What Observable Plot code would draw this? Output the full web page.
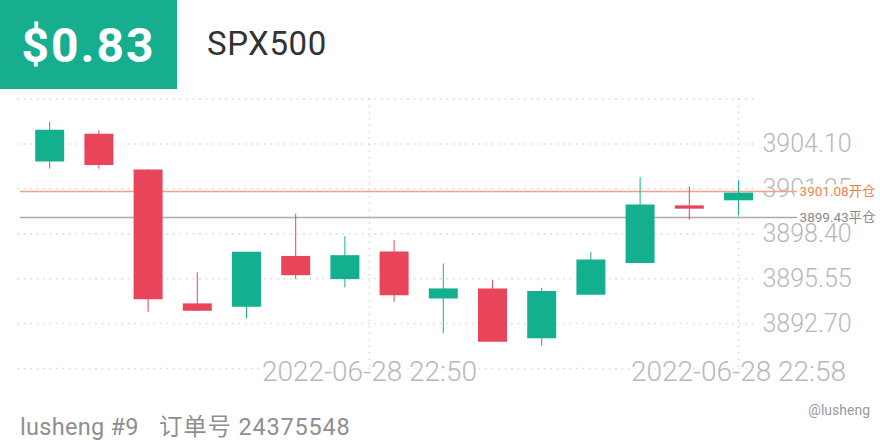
<!DOCTYPE html>
<html>
<head>
<meta charset="utf-8">
<script src="https://cdn.jsdelivr.net/npm/d3@7"></script>
<script src="https://cdn.jsdelivr.net/npm/@observablehq/plot@0.6"></script>
<style>
  html, body { margin: 0; padding: 0; background: #fff; }
  body { width: 880px; height: 440px; position: relative; overflow: hidden; font-family: Roboto, "Noto Sans CJK SC", sans-serif; }
  #pnl { position: absolute; left: 0; top: 0; width: 177px; height: 89px; background: #16ae8f;
         color: #fff; font-weight: 700; font-size: 48px; letter-spacing: 2px;
         display: flex; align-items: center; justify-content: center; padding-top: 2px; box-sizing: border-box; }
  #sym { position: absolute; left: 207px; top: 24px; font-size: 33px; letter-spacing: 0.6px; color: #333; line-height: 40px; }
  #chart { position: absolute; left: 0; top: 89px; }
  #foot { position: absolute; left: 20px; top: 412px; font-size: 23.5px; line-height: 30px; color: #8f8f8f; letter-spacing: 0.3px; }
  #foot span { margin-left: 20px; letter-spacing: 0.8px; }
  #wm { position: absolute; right: 10px; top: 400px; font-size: 14px; color: #9a9a9a; line-height: 20px; }
</style>
</head>
<body>
<div id="pnl">$0.83</div>
<div id="sym">SPX500</div>
<div id="chart"></div>
<div id="foot">lusheng #9<span>订单号 24375548</span></div>
<div id="wm">@lusheng</div>
<script>
// Candles (1-minute bars, index order)
const open  = [3902.96, 3904.71, 3902.45, 3893.95, 3893.73, 3896.96, 3895.49, 3897.24, 3894.26, 3894.90, 3891.73, 3894.49, 3896.52, 3900.17, 3900.49];
const high  = [3905.49, 3904.92, 3902.45, 3895.93, 3897.22, 3899.65, 3898.21, 3897.96, 3896.48, 3895.42, 3894.94, 3897.22, 3901.97, 3901.38, 3901.76];
const low   = [3902.50, 3902.50, 3893.42, 3893.48, 3892.99, 3895.49, 3894.96, 3894.05, 3892.05, 3891.52, 3891.24, 3894.49, 3896.52, 3899.27, 3899.54];
const close = [3904.97, 3902.73, 3894.22, 3893.48, 3897.22, 3895.74, 3897.01, 3894.47, 3894.90, 3891.52, 3894.73, 3896.73, 3900.22, 3899.96, 3900.98];

// Axis values
const gridValues = [3889.85, 3892.70, 3895.55, 3898.40, 3901.25, 3904.10, 3906.95];
const yTickValues = [3892.70, 3895.55, 3898.40, 3901.25, 3904.10];
const xTicks = [6.5, 14];
const xTickLabels = ["2022-06-28 22:50", "2022-06-28 22:58"];

// Position lines
const posValues = [3901.08, 3899.43];
const posLabels = ["3901.08开仓", "3899.43平仓"];

const GREEN = "#13b08f", RED = "#e8455a";
const posColors = ["#f4a184", "#ababab"];
const posTextColors = ["#f07f4f", "#8a8a8a"];

const idx = d3.range(open.length);
const col = i => close[i] >= open[i] ? GREEN : RED;
const pIdx = d3.range(posValues.length);

const chart = Plot.plot({
  width: 880, height: 300,
  marginLeft: 0, marginRight: 142, marginTop: 9.5, marginBottom: 21,
  style: { fontFamily: "Roboto, 'Noto Sans CJK SC', sans-serif", background: "white", overflow: "visible" },
  x: { domain: [-1, 14], axis: null },
  y: { domain: [gridValues[0], gridValues[gridValues.length - 1]], axis: null },
  color: { type: "identity" },
  marks: [
    Plot.ruleY(gridValues, { x1: () => -0.65, x2: () => 14.4, stroke: "#d6d6d6", strokeWidth: 1.5, strokeDasharray: "1.5,5" }),
    Plot.ruleX(xTicks, { x: d => d, stroke: "#d6d6d6", strokeWidth: 1.5, strokeDasharray: "1.5,5" }),
    Plot.text(xTicks, { x: d => d, text: (d, i) => xTickLabels[i], frameAnchor: "bottom", dy: 4, lineAnchor: "middle",
      fontSize: 28, fontWeight: 300, fill: "#b8b8b8", stroke: "white", strokeWidth: 5, paintOrder: "stroke" }),
    Plot.text(yTickValues, { y: d => d, text: d => d.toFixed(2), frameAnchor: "right", dx: 24, textAnchor: "start",
      fontSize: 25, fontWeight: 300, fill: "#b8b8b8" }),
    // label backgrounds
    Plot.rect(pIdx, { x1: i => i === 0 ? 15.15 : 14.4, x2: () => 17.3,
      y1: i => posValues[i] - (i === 0 ? 0.6 : 0.38), y2: i => posValues[i] + (i === 0 ? 0.42 : 0.5), fill: "white" }),
    Plot.ruleY(pIdx, { y: i => posValues[i], x1: () => -0.6, x2: () => 15.2, stroke: i => posColors[i], strokeWidth: 1.3 }),
    Plot.text(pIdx, { x: () => 15.2, y: i => posValues[i], text: i => posLabels[i], dx: 2, textAnchor: "start",
      fontSize: 13.5, fill: i => posTextColors[i] }),
    // wicks
    Plot.ruleX(idx, { x: i => i, y1: i => low[i], y2: i => high[i], stroke: col, strokeWidth: 1 }),
    // bodies
    Plot.ruleX(idx, { x: i => i, y1: i => open[i], y2: i => close[i], stroke: col, strokeWidth: 29 })
  ]
});
document.getElementById("chart").appendChild(chart);
</script>
</body>
</html>
